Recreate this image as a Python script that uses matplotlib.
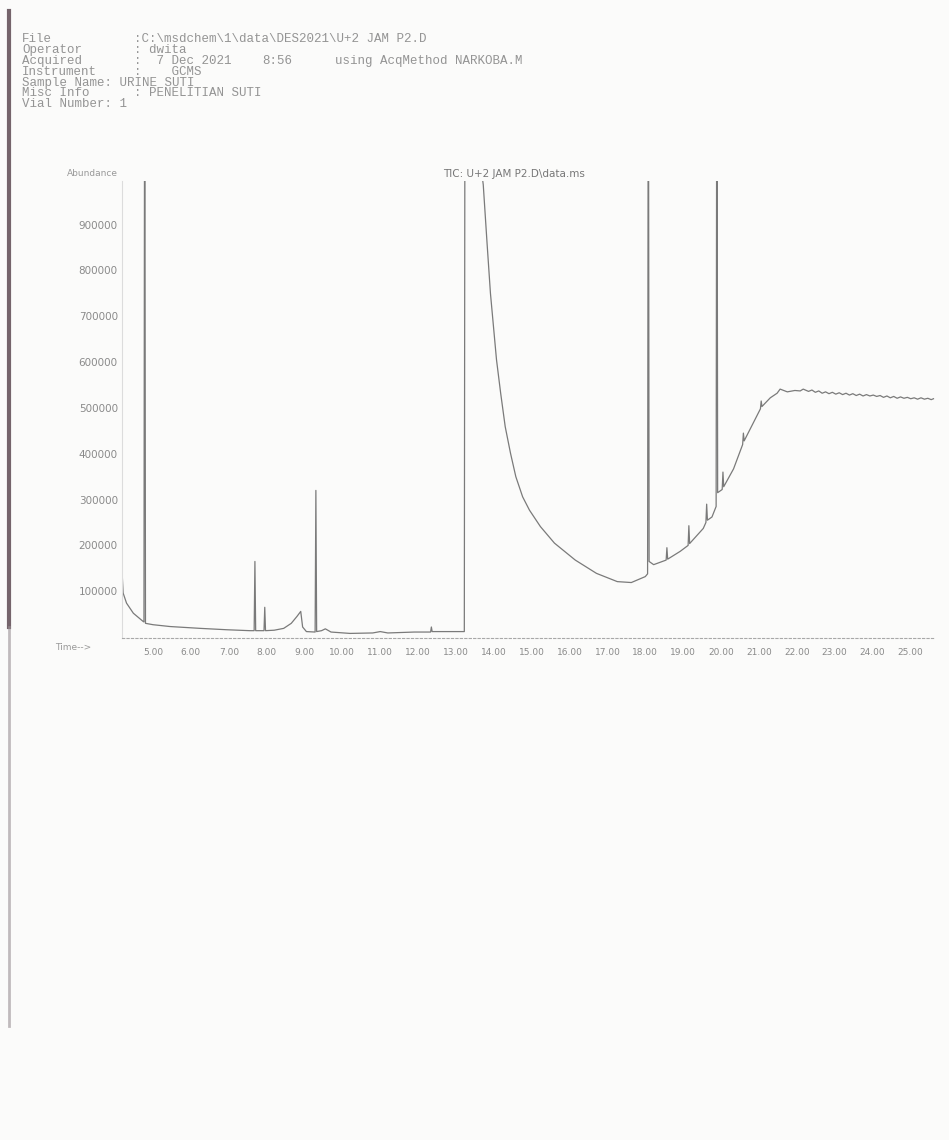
import matplotlib.pyplot as plt
from matplotlib.lines import Line2D

# TIC trace (time in min, abundance in counts)
# values above the axis top are peaks that run off scale in the print
time_min = [
    4.18, 4.21, 4.30, 4.48, 4.74, 4.76, 4.78, 4.80, 5.00, 5.45, 6.25, 6.95, 7.55,
    7.67, 7.69, 7.71, 7.93, 7.95, 7.97, 8.20, 8.45, 8.65, 8.80, 8.90,
    8.95, 9.05, 9.28, 9.30, 9.32, 9.45, 9.55, 9.70, 10.20, 10.80, 11.00,
    11.20, 11.90, 12.33, 12.35, 12.37, 13.10, 13.22, 13.24, 13.30, 13.60,
    13.70, 13.72, 13.82, 13.91, 13.99, 14.07, 14.18, 14.30, 14.44, 14.58,
    14.76, 14.94, 15.23, 15.60, 16.15, 16.71, 17.26, 17.63, 18.00, 18.06,
    18.08, 18.10, 18.22, 18.35,
    18.55, 18.57, 18.59, 18.92, 19.13, 19.15, 19.17, 19.53, 19.60, 19.62,
    19.64, 19.76, 19.87, 19.89, 19.91, 20.03, 20.05, 20.07, 20.33, 20.57,
    20.59, 20.61, 21.04, 21.06, 21.08, 21.30, 21.48, 21.56, 21.75, 21.95,
    22.09, 22.17, 22.31, 22.40, 22.49, 22.58, 22.67, 22.76, 22.85, 22.94,
    23.03, 23.12, 23.21, 23.30, 23.39, 23.48, 23.57, 23.66, 23.75, 23.84,
    23.93, 24.02, 24.11, 24.20, 24.29, 24.38, 24.47, 24.56, 24.65, 24.74,
    24.83, 24.92, 25.01, 25.10, 25.19, 25.28, 25.37, 25.46, 25.55, 25.61,
]
abundance = [
    145000, 96000, 74000, 52000, 34000, 33000, 1500000, 30000, 27000, 23000, 19000, 16000, 14000,
    14000, 165000, 14000, 14000, 65000, 14000, 15000, 19000, 30000, 45000, 56000,
    22000, 12000, 11000, 320000, 12000, 14000, 18000, 11000, 8000, 9000, 12000,
    9000, 11000, 11000, 22000, 12000, 12000, 12000, 1500000, 1600000, 1100000,
    1000000, 987000, 860000, 750000, 678000, 605000, 532000, 459000, 401000, 350000,
    306000, 277000, 241000, 205000, 168000, 139000, 121000, 119000, 132000, 138000,
    1500000, 165000, 158000, 162000,
    168000, 195000, 170000, 187000, 200000, 243000, 204000, 237000, 250000, 290000,
    255000, 262000, 285000, 1500000, 315000, 322000, 360000, 328000, 367000, 420000,
    445000, 428000, 498000, 515000, 503000, 522000, 532000, 541000, 535000, 538000,
    537000, 541000, 536000, 539000, 534000, 537000, 532000, 535000, 531000, 534000,
    530000, 533000, 529000, 532000, 528000, 531000, 527000, 530000, 526000, 529000,
    526000, 528000, 525000, 527000, 523000, 526000, 522000, 525000, 521000, 524000,
    521000, 523000, 520000, 522000, 519000, 522000, 519000, 521000, 518000, 520000,
]

y_ticks = [100000, 200000, 300000, 400000, 500000, 600000, 700000, 800000, 900000]
x_ticks = [5, 6, 7, 8, 9, 10, 11, 12, 13, 14, 15, 16, 17, 18, 19, 20, 21, 22, 23, 24, 25]

header_labels = ['File', 'Operator', 'Acquired', 'Instrument', '', 'Misc Info', '']
header_values = [':C:\\msdchem\\1\\data\\DES2021\\U+2 JAM P2.D', ': dwita', ':  7 Dec 2021',
                 ':    GCMS', '', ': PENELITIAN SUTI', '']
header_full = ['', '', '', '', 'Sample Name: URINE SUTI', '', 'Vial Number: 1']

W, H = 949, 1140
fig = plt.figure(figsize=(W / 100, H / 100), dpi=100, facecolor='#fbfbfa')
ax = fig.add_axes([122 / W, 1 - 638 / H, 813 / W, 457 / H])
ax.set_facecolor('none')

ax.plot(time_min, abundance, color='#7a7a7a', linewidth=0.9)

ax.set_xlim(4.18, 25.65)
ax.set_ylim(-2000, 995000)
ax.set_xticks(x_ticks)
ax.set_xticklabels(['%.2f' % t for t in x_ticks])
ax.set_yticks(y_ticks)
ax.set_yticklabels([str(v) for v in y_ticks])
ax.tick_params(axis='both', length=0, colors='#8a8a8a')
ax.tick_params(axis='x', labelsize=6.5, pad=7)
ax.tick_params(axis='y', labelsize=7.5, pad=3)

for side in ['top', 'right']:
    ax.spines[side].set_visible(False)
ax.spines['left'].set_color('#dcdcdc')
ax.spines['left'].set_linewidth(0.8)
ax.spines['bottom'].set_color('#a8a8a8')
ax.spines['bottom'].set_linewidth(0.8)
ax.spines['bottom'].set_linestyle((0, (2, 2)))

# labels around the plot, as the ChemStation print has them
fig.text(118 / W, 1 - 173 / H, 'Abundance', ha='right', va='center', fontsize=6.5, color='#999999')
fig.text(55 / W, 1 - 648 / H, 'Time-->', ha='left', va='center', fontsize=6.5, color='#999999')
fig.text(443 / W, 1 - 174 / H, 'TIC: U+2 JAM P2.D\\data.ms', ha='left', va='center',
         fontsize=7.5, color='#777777')

# header block (monospace)
mono = dict(family='Liberation Mono', fontsize=9, color='#949494', va='center')
for i in range(len(header_labels)):
    y = 1 - (39 + i * 10.9) / H
    if header_full[i]:
        fig.text(22 / W, y, header_full[i], **mono)
    else:
        fig.text(22 / W, y, header_labels[i], **mono)
        fig.text(134 / W, y, header_values[i], **mono)
fig.text(262 / W, 1 - (39 + 2 * 10.9) / H, '8:56', **mono)
fig.text(335 / W, 1 - (39 + 2 * 10.9) / H, 'using AcqMethod NARKOBA.M', **mono)

# dark edge of the scanned sheet
fig.add_artist(Line2D([0.009, 0.009], [0.45, 0.99], transform=fig.transFigure,
                      color='#5e4a52', linewidth=3, alpha=0.85))
fig.add_artist(Line2D([0.009, 0.009], [0.10, 0.45], transform=fig.transFigure,
                      color='#9a9094', linewidth=2, alpha=0.6))

plt.savefig('out.png', dpi=100, facecolor=fig.get_facecolor())
plt.close()
